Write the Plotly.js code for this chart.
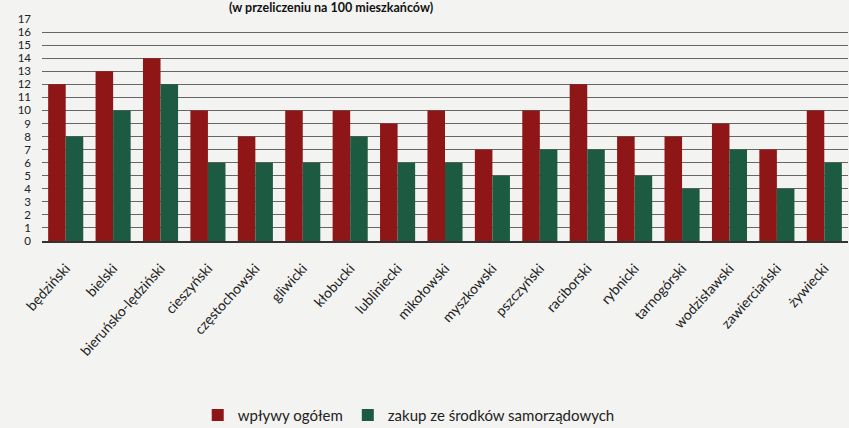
<!DOCTYPE html>
<html><head><meta charset="utf-8">
<script src="https://cdn.plot.ly/plotly-3.0.1.min.js"></script>
<style>html,body{margin:0;padding:0;background:#f3f3f1;}#chart{width:849px;height:428px;}</style>
</head><body><div id="chart"></div>
<script>
const categories = ["będziński","bielski","bieruńsko-lędziński","cieszyński","częstochowski","gliwicki","kłobucki","lubliniecki","mikołowski","myszkowski","pszczyński","raciborski","rybnicki","tarnogórski","wodzisławski","zawierciański","żywiecki"];
const wplywy = [12,13,14,10,8,10,10,9,10,7,10,12,8,8,9,7,10];
const zakup = [8,10,12,6,6,6,8,6,6,5,7,7,5,4,7,4,6];
const yTicks = [0,1,2,3,4,5,6,7,8,9,10,11,12,13,14,15,16,17];
const seriesNames = ["wpływy ogółem","zakup ze środków samorządowych"];
const font = "Lato, Open Sans, sans-serif";
const data = [
  {type:"bar", name:seriesNames[0], x:categories, y:wplywy, marker:{color:"#8e1616"}},
  {type:"bar", name:seriesNames[1], x:categories, y:zakup, marker:{color:"#1c5a42"}}
];
const layout = {
  width:849, height:428,
  paper_bgcolor:"#f3f3f1", plot_bgcolor:"#f3f3f1",
  margin:{l:42, r:1, t:19, b:187, autoexpand:false},
  font:{family:font, size:13, color:"#222"},
  title:{text:"<b>(w przeliczeniu na 100 mieszkańców)</b>", x:0.39, xanchor:"center", y:1, yref:"container", yanchor:"top", pad:{t:3}, font:{family:font, size:12.5, color:"#111"}},
  barmode:"group", bargap:0.26, bargroupgap:0,
  xaxis:{tickangle:-48, automargin:false, showgrid:false, showline:true, linecolor:"#333", linewidth:1.5, tickfont:{family:font, size:14, color:"#222"}, ticks:"", ticklabelstandoff:12},
  yaxis:{range:[0,17], automargin:false, tickvals:yTicks, showgrid:true, gridcolor:"#666", gridwidth:1, zeroline:false, showline:false, ticks:"", ticklabelstandoff:10, tickfont:{family:font, size:11.5, color:"#222"}},
  showlegend:true,
  legend:{orientation:"h", x:0.455, xanchor:"center", y:-0.785, yanchor:"middle", font:{family:font, size:15, color:"#222"}, itemwidth:20, traceorder:"normal"}
};
Plotly.newPlot("chart", data, layout, {displayModeBar:false});
</script></body></html>
